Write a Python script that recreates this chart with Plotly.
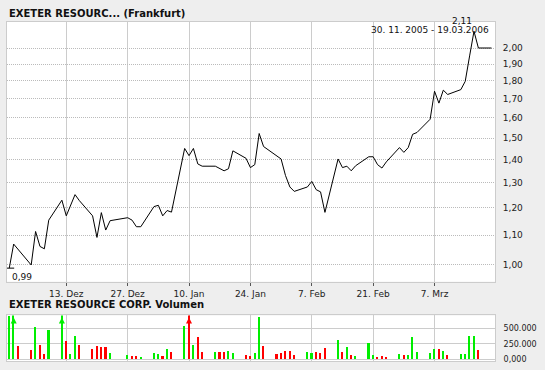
import plotly.graph_objects as go

# ---------------- data ----------------
price_dates = [
    "2005-11-30", "2005-12-01", "2005-12-05", "2005-12-06", "2005-12-07", "2005-12-08",
    "2005-12-09", "2005-12-12", "2005-12-13", "2005-12-15", "2005-12-16", "2005-12-19",
    "2005-12-20", "2005-12-21", "2005-12-22", "2005-12-23", "2005-12-27", "2005-12-28",
    "2005-12-29", "2005-12-30", "2006-01-02", "2006-01-03", "2006-01-04", "2006-01-05",
    "2006-01-06", "2006-01-09", "2006-01-10", "2006-01-11", "2006-01-12", "2006-01-13",
    "2006-01-16", "2006-01-17", "2006-01-18", "2006-01-19", "2006-01-20", "2006-01-23",
    "2006-01-24", "2006-01-25", "2006-01-26", "2006-01-27", "2006-01-30", "2006-01-31",
    "2006-02-01", "2006-02-02", "2006-02-03", "2006-02-06", "2006-02-07", "2006-02-08",
    "2006-02-09", "2006-02-10", "2006-02-13", "2006-02-14", "2006-02-15", "2006-02-16",
    "2006-02-17", "2006-02-20", "2006-02-21", "2006-02-22", "2006-02-23", "2006-02-24",
    "2006-02-27", "2006-02-28", "2006-03-01", "2006-03-02", "2006-03-03", "2006-03-06",
    "2006-03-07", "2006-03-08", "2006-03-09", "2006-03-10", "2006-03-13", "2006-03-14",
    "2006-03-15", "2006-03-16", "2006-03-17", "2006-03-20",
]
price_values = [
    0.99, 1.069, 1.00, 1.113, 1.061, 1.053,
    1.154, 1.23, 1.17, 1.252, 1.228, 1.17,
    1.092, 1.182, 1.118, 1.152, 1.163, 1.154,
    1.130, 1.130, 1.205, 1.21, 1.17, 1.19,
    1.184, 1.451, 1.418, 1.451, 1.381, 1.371,
    1.371, 1.362, 1.351, 1.36, 1.44, 1.406,
    1.365, 1.378, 1.522, 1.46, 1.42, 1.403,
    1.331, 1.283, 1.265, 1.283, 1.306, 1.272,
    1.263, 1.183, 1.403, 1.365, 1.371, 1.351,
    1.373, 1.413, 1.413, 1.378, 1.363, 1.39,
    1.455, 1.433, 1.455, 1.518, 1.527, 1.593,
    1.742, 1.677, 1.748, 1.724, 1.751, 1.798,
    1.95, 2.11, 2.00, 2.00,
]

vol_dates = [
    "2005-11-30", "2005-12-01", "2005-12-02", "2005-12-05", "2005-12-06", "2005-12-07",
    "2005-12-08", "2005-12-09", "2005-12-12", "2005-12-13", "2005-12-14", "2005-12-15",
    "2005-12-16", "2005-12-19", "2005-12-20", "2005-12-21", "2005-12-22", "2005-12-23",
    "2005-12-27", "2005-12-28", "2005-12-29", "2005-12-30", "2006-01-02", "2006-01-03",
    "2006-01-04", "2006-01-05", "2006-01-06", "2006-01-09", "2006-01-10", "2006-01-11",
    "2006-01-12", "2006-01-13", "2006-01-16", "2006-01-17", "2006-01-18", "2006-01-19",
    "2006-01-20", "2006-01-23", "2006-01-24", "2006-01-25", "2006-01-26", "2006-01-27",
    "2006-01-30", "2006-01-31", "2006-02-01", "2006-02-02", "2006-02-03", "2006-02-06",
    "2006-02-07", "2006-02-08", "2006-02-09", "2006-02-10", "2006-02-13", "2006-02-14",
    "2006-02-15", "2006-02-16", "2006-02-17", "2006-02-20", "2006-02-21", "2006-02-22",
    "2006-02-23", "2006-02-24", "2006-02-27", "2006-02-28", "2006-03-01", "2006-03-02",
    "2006-03-03", "2006-03-06", "2006-03-07", "2006-03-08", "2006-03-09", "2006-03-10",
    "2006-03-13", "2006-03-14", "2006-03-15", "2006-03-16", "2006-03-17",
]
vol_values = [
    695000, 900000, 203000, 140000, 515000, 219000,
    78000, 469000, 850000, 281000, 78000, 359000,
    219000, 156000, 203000, 188000, 188000, 94000,
    62000, 47000, 47000, 31000, 94000, 78000,
    47000, 156000, 109000, 531000, 820000, 219000,
    344000, 109000, 109000, 109000, 109000, 125000,
    94000, 62000, 47000, 94000, 672000, 203000,
    78000, 94000, 125000, 125000, 62000, 109000,
    94000, 109000, 94000, 172000, 297000, 109000,
    188000, 62000, 47000, 250000, 62000, 31000,
    47000, 31000, 78000, 62000, 62000, 344000,
    109000, 94000, 156000, 156000, 125000, 62000,
    78000, 78000, 359000, 359000, 140000,
]
vol_up = [
    1, 1, 0, 0, 1, 0,
    0, 1, 1, 0, 1, 1,
    0, 0, 0, 0, 0, 1,
    1, 0, 0, 1, 1, 1,
    0, 1, 0, 1, 0, 1,
    0, 0, 1, 0, 0, 1,
    1, 0, 0, 1, 1, 0,
    0, 0, 0, 0, 0, 1,
    1, 0, 0, 0, 1, 0,
    1, 0, 1, 1, 1, 0,
    0, 0, 1, 0, 1, 1,
    1, 1, 1, 0, 1, 0,
    1, 1, 1, 1, 0,
]

tick_dates = ["2005-12-13", "2005-12-27", "2006-01-10", "2006-01-24",
              "2006-02-07", "2006-02-21", "2006-03-07"]
tick_labels = ["13. Dez", "27. Dez", "10. Jan", "24. Jan", "7. Feb", "21. Feb", "7. Mrz"]

price_ticks = [1.00, 1.10, 1.20, 1.30, 1.40, 1.50, 1.60, 1.70, 1.80, 1.90, 2.00]
price_tick_labels = ["1,00", "1,10", "1,20", "1,30", "1,40", "1,50",
                     "1,60", "1,70", "1,80", "1,90", "2,00"]
vol_ticks = [0, 250000, 500000]
vol_tick_labels = ["0,000", "250.000", "500.000"]

title_main = "EXETER RESOURC... (Frankfurt)"
title_vol = "EXETER RESOURCE CORP. Volumen"
period_text = "30. 11. 2005 - 19.03.2006"

# ---------------- styling / layout ----------------
GREEN = "#00ee00"
RED = "#ff0000"
GRID = "#cccccc"
X_RANGE = ["2005-11-29 11:30", "2006-03-20 19:00"]
Y_RANGE = [-0.0232, 0.3371]
VOL_RANGE = [-27000, 703000]
FONT = "DejaVu Sans"

W, H = 545, 370
M_L, M_R, M_T, M_B = 6, 50, 22, 6
plot_h = H - M_T - M_B
main_bottom_px = 284
vol_top_px = 318
main_dom = [(H - M_B - main_bottom_px) / plot_h, 1.0]
vol_dom = [0.0, (H - M_B - vol_top_px) / plot_h]

fig = go.Figure()

fig.add_trace(go.Scatter(
    x=price_dates, y=price_values, mode="lines",
    line=dict(color="black", width=1), xaxis="x", yaxis="y", hoverinfo="skip"))

i_min = price_values.index(min(price_values))
i_max = price_values.index(max(price_values))
fig.add_trace(go.Scatter(
    x=[price_dates[i_min]], y=[price_values[i_min]], mode="markers",
    marker=dict(symbol="line-ew", size=7, line=dict(color="black", width=1)),
    xaxis="x", yaxis="y", hoverinfo="skip"))

fig.add_trace(go.Bar(
    x=vol_dates, y=vol_values,
    marker=dict(color=[GREEN if u else RED for u in vol_up], line=dict(width=0)),
    width=0.36 * 86400000, xaxis="x2", yaxis="y2", hoverinfo="skip"))

clip_idx = [i for i, v in enumerate(vol_values) if v > VOL_RANGE[1]]
fig.add_trace(go.Scatter(
    x=[vol_dates[i] for i in clip_idx],
    y=[VOL_RANGE[1] * 0.955 for _ in clip_idx],
    mode="markers",
    marker=dict(symbol="arrow-up", size=6,
                color=[GREEN if vol_up[i] else RED for i in clip_idx],
                line=dict(width=0)),
    xaxis="x2", yaxis="y2", hoverinfo="skip", cliponaxis=False))

tick_font = dict(family=FONT, size=9, color="#222222")

fig.update_layout(
    width=W, height=H,
    margin=dict(l=M_L, r=M_R, t=M_T, b=M_B),
    paper_bgcolor="#eeeeee", plot_bgcolor="white",
    showlegend=False, bargap=0,
    font=dict(family=FONT, size=9, color="#222222"),
    xaxis=dict(
        domain=[0, 1], anchor="y", type="date", range=X_RANGE,
        tickvals=tick_dates, ticktext=tick_labels, tickfont=tick_font,
        showgrid=True, gridcolor=GRID, gridwidth=1,
        ticks="outside", ticklen=3, tickcolor="#555555", tickwidth=1,
        showline=True, linecolor=GRID, linewidth=1, mirror=True, zeroline=False),
    yaxis=dict(
        domain=main_dom, anchor="x", type="log", range=Y_RANGE,
        tickvals=price_ticks, ticktext=price_tick_labels, tickfont=tick_font,
        side="right", showgrid=True, gridcolor="#bbbbbb", griddash="1px,1px",
        ticks="", ticklabelstandoff=5,
        showline=True, linecolor=GRID, linewidth=1, mirror=True, zeroline=False),
    xaxis2=dict(
        domain=[0, 1], anchor="y2", type="date", range=X_RANGE,
        tickvals=tick_dates, showticklabels=False,
        showgrid=True, gridcolor=GRID, gridwidth=1, ticks="",
        showline=True, linecolor=GRID, linewidth=1, mirror=True, zeroline=False),
    yaxis2=dict(
        domain=vol_dom, anchor="x2", range=VOL_RANGE,
        tickvals=vol_ticks, ticktext=vol_tick_labels,
        tickfont=dict(family=FONT, size=8, color="#222222"),
        side="right", showgrid=True, gridcolor=GRID, ticks="", ticklabelstandoff=6,
        showline=True, linecolor=GRID, linewidth=1, mirror=True, zeroline=False),
)

def py(px_y):
    return (H - M_B - px_y) / plot_h

annotations = [
    dict(text="<b>%s</b>" % title_main, xref="paper", yref="paper", x=0, y=py(13),
         xanchor="left", yanchor="middle", showarrow=False,
         font=dict(family=FONT, size=10, color="#111111")),
    dict(text="<b>%s</b>" % title_vol, xref="paper", yref="paper", x=0, y=py(307),
         xanchor="left", yanchor="middle", showarrow=False,
         font=dict(family=FONT, size=10, color="#111111")),
    dict(text=period_text, xref="paper", yref="paper", x=(491 - M_L) / (W - M_L - M_R),
         y=py(30.5), xanchor="right", yanchor="middle", showarrow=False,
         font=dict(family=FONT, size=9, color="#111111")),
    dict(text=("%.2f" % price_values[i_min]).replace(".", ","), xref="x", yref="y",
         x=price_dates[i_min], y=0.0 + __import__("math").log10(price_values[i_min]),
         xanchor="left", yanchor="top", xshift=1, yshift=-2, showarrow=False,
         font=dict(family=FONT, size=9, color="#111111")),
    dict(text=("%.2f" % price_values[i_max]).replace(".", ","), xref="x", yref="y",
         x=price_dates[i_max], y=__import__("math").log10(price_values[i_max]),
         xanchor="right", yanchor="bottom", xshift=0, yshift=3, showarrow=False,
         font=dict(family=FONT, size=9, color="#111111")),
]
fig.update_layout(annotations=annotations)

fig.write_html("out.html")
